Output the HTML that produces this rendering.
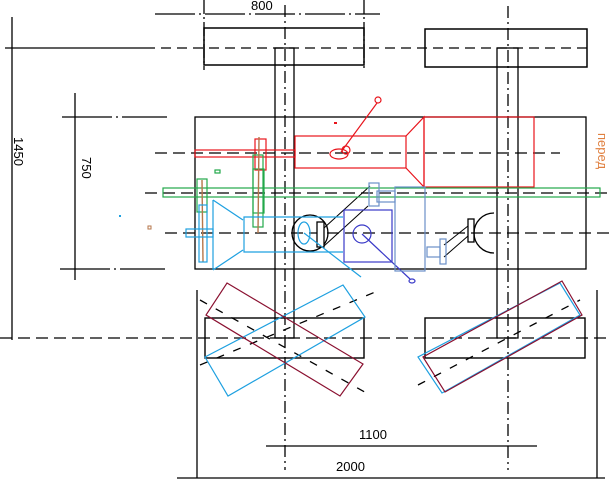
<!DOCTYPE html>
<html><head><meta charset="utf-8"><style>
html,body{margin:0;padding:0;background:#fff;width:610px;height:481px;overflow:hidden}
svg{display:block}
text{font-family:"Liberation Sans",sans-serif;font-size:13px;fill:#000}
</style></head><body>
<svg width="610" height="481" viewBox="0 0 610 481" xmlns="http://www.w3.org/2000/svg">
<g fill="none" stroke="#000" stroke-width="1.3">
<line x1="204" y1="0" x2="204" y2="70" stroke-dasharray="14,3,2,3"/>
<line x1="364" y1="0" x2="364" y2="68" stroke-dasharray="14,3,2,3"/>
<line x1="155" y1="14" x2="380" y2="14" stroke-dasharray="40,4,2,4"/>
<rect x="204" y="28" width="160" height="37" stroke-width="1.5"/>
<rect x="425" y="29" width="162" height="38" stroke-width="1.5"/>
<line x1="5" y1="48" x2="145" y2="48"/>
<line x1="145" y1="48" x2="590" y2="48" stroke-dasharray="10,6"/>
<line x1="12" y1="17" x2="12" y2="340"/>
<rect x="275" y="48" width="19" height="290"/>
<rect x="497" y="48" width="21" height="290"/>
<line x1="285" y1="5" x2="285" y2="470" stroke-dasharray="12,4,2,4"/>
<line x1="508" y1="6" x2="508" y2="470" stroke-dasharray="12,4,2,4"/>
<line x1="75" y1="93" x2="75" y2="280"/>
<line x1="62" y1="117" x2="167" y2="117" stroke-dasharray="50,4,2,4"/>
<line x1="60" y1="269" x2="165" y2="269" stroke-dasharray="50,4,2,4"/>
<rect x="195" y="117" width="391" height="152"/>
<line x1="155" y1="153" x2="560" y2="153" stroke-dasharray="12,6"/>
<line x1="145" y1="193" x2="610" y2="193" stroke-dasharray="12,6"/>
<line x1="165" y1="233" x2="610" y2="233" stroke-dasharray="12,6"/>
<rect x="205" y="318" width="159" height="40" stroke-width="1.4"/>
<rect x="425" y="318" width="160" height="40" stroke-width="1.4"/>
<line x1="0" y1="338" x2="610" y2="338" stroke-dasharray="12,6"/>
<line x1="200" y1="300" x2="370" y2="395" stroke-dasharray="8,10"/>
<line x1="200" y1="365" x2="380" y2="290" stroke-dasharray="8,10"/>
<line x1="418" y1="385" x2="580" y2="300" stroke-dasharray="8,10"/>
<line x1="266" y1="446" x2="537" y2="446"/>
<line x1="177" y1="478" x2="605" y2="478"/>
<line x1="197" y1="290" x2="197" y2="478"/>
<line x1="597" y1="290" x2="597" y2="478"/>
<circle cx="310" cy="233" r="18"/>
<rect x="317" y="222" width="7" height="25" fill="#fff"/>
<line x1="324" y1="228" x2="370" y2="186" stroke-width="1"/>
<line x1="324" y1="246" x2="368" y2="206" stroke-width="1"/>
<path d="M494 213 A20 20 0 0 0 494 253"/>
<rect x="468" y="219" width="6" height="23"/>
<line x1="444" y1="245" x2="468" y2="226" stroke-width="1"/>
<line x1="444" y1="257" x2="468" y2="236" stroke-width="1"/>
</g>
<g fill="none" stroke="#e8141c" stroke-width="1.2">
<rect x="195" y="150" width="100" height="7"/>
<rect x="295" y="136" width="111" height="32"/>
<polyline points="406,136 424,117 424,187 406,168"/>
<rect x="424" y="117" width="110" height="70"/>
<rect x="255" y="139" width="11" height="31"/>
<ellipse cx="339" cy="154" rx="9" ry="5"/>
<circle cx="346" cy="150" r="4"/>
<line x1="341" y1="152" x2="377" y2="103"/>
<circle cx="378" cy="100" r="3"/>
</g>
<rect x="334" y="122" width="3" height="2" fill="#e8141c"/>
<g fill="none" stroke="#22a84a" stroke-width="1.2">
<rect x="163" y="188" width="437" height="9"/>
<rect x="253" y="155" width="10" height="72"/>
<rect x="253" y="169" width="11" height="44"/>
<rect x="197" y="179" width="10" height="33"/>
<rect x="215" y="170" width="5" height="3"/>
</g>
<g stroke="#b5764a" stroke-width="1.4">
<line x1="259" y1="137" x2="258" y2="233"/>
<line x1="202" y1="180" x2="203" y2="262"/>
</g>
<rect x="148" y="226" width="3" height="3" fill="none" stroke="#b5764a"/>
<g fill="none" stroke="#1ea0e0" stroke-width="1.2">
<rect x="199" y="205" width="8" height="57"/>
<rect x="186" y="229" width="27" height="8"/>
<line x1="213" y1="200" x2="213" y2="270"/>
<line x1="213" y1="200" x2="243" y2="220"/>
<line x1="213" y1="270" x2="243" y2="250"/>
<polyline points="343,217 244,217 244,252 343,252"/>
<ellipse cx="304" cy="233" rx="6" ry="11"/>
<line x1="304" y1="233" x2="361" y2="277"/>
<polygon points="205,357 343,285 365,317 228,396"/>
<polygon points="560,283 580,315 442,393 418,357"/>
</g>
<rect x="119" y="215" width="2" height="2" fill="#1ea0e0"/>
<g fill="none" stroke="#8a1030" stroke-width="1.2">
<polygon points="227,283 363,364 340,396 206,315"/>
<polygon points="562,281 582,315 445,392 423,357"/>
</g>
<g fill="none" stroke="#3a3ac8" stroke-width="1.2">
<rect x="344" y="210" width="48" height="52"/>
<circle cx="362" cy="234" r="9"/>
<line x1="362" y1="234" x2="410" y2="279"/>
<ellipse cx="412" cy="281" rx="3" ry="2"/>
</g>
<g fill="none" stroke="#6a90c8" stroke-width="1.2">
<rect x="369" y="183" width="10" height="23"/>
<rect x="377" y="191" width="18" height="11"/>
<rect x="395" y="187" width="30" height="84"/>
<rect x="427" y="247" width="13" height="10"/>
<rect x="440" y="239" width="6" height="25"/>
</g>
<text x="251" y="10">800</text>
<text x="359" y="439">1100</text>
<text x="336" y="471">2000</text>
<text transform="translate(14,137) rotate(90)">1450</text>
<text transform="translate(82,157) rotate(90)">750</text>
<text transform="translate(598,133) rotate(90)" style="fill:#e08040">перед</text>
</svg>
</body></html>
